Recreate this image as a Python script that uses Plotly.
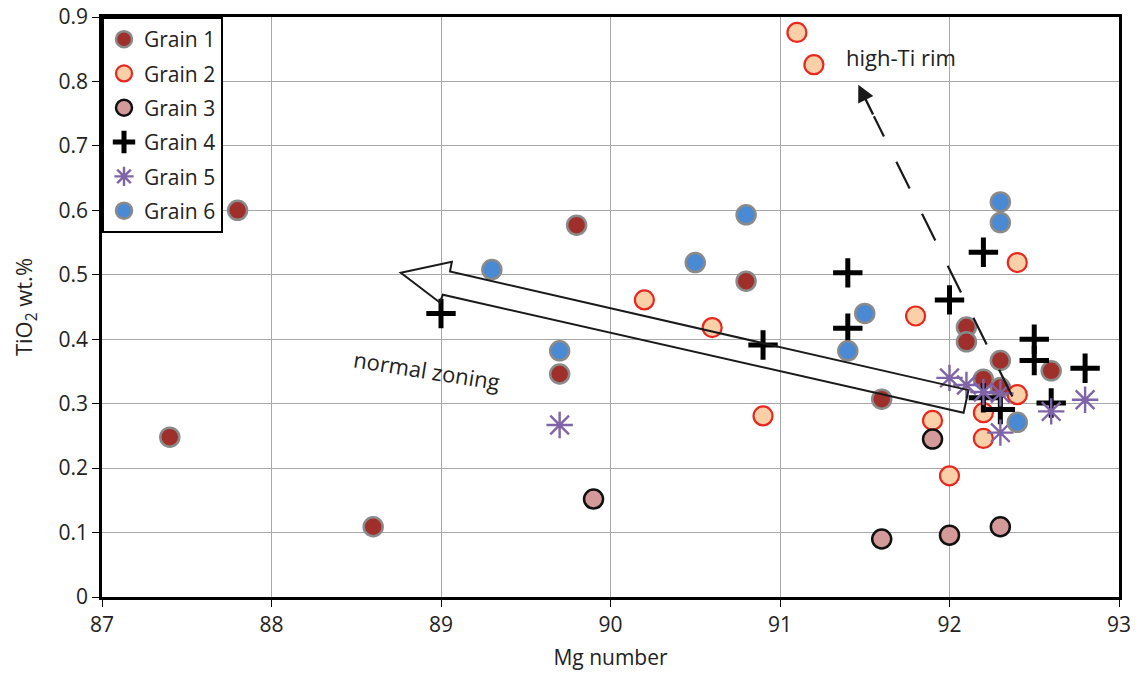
import plotly.graph_objects as go

# ---------------- data ----------------
g1_x = [87.8, 89.8, 87.4, 88.6, 89.7, 90.8, 91.6, 92.1, 92.1, 92.3, 92.2, 92.3, 92.6]
g1_y = [0.600, 0.577, 0.248, 0.109, 0.346, 0.490, 0.307, 0.419, 0.396, 0.367, 0.338, 0.325, 0.351]

g2_x = [91.1, 91.2, 90.2, 90.6, 91.8, 92.4, 90.9, 91.9, 92.0, 92.2, 92.2, 92.4]
g2_y = [0.876, 0.826, 0.461, 0.418, 0.436, 0.519, 0.281, 0.274, 0.188, 0.286, 0.246, 0.314]

g3_x = [89.9, 91.6, 92.0, 91.9, 92.3]
g3_y = [0.152, 0.090, 0.096, 0.245, 0.109]

g4_x = [89.0, 90.9, 91.4, 91.4, 92.0, 92.2, 92.5, 92.5, 92.8, 92.6, 92.2, 92.3]
g4_y = [0.440, 0.391, 0.503, 0.417, 0.461, 0.535, 0.400, 0.367, 0.355, 0.301, 0.309, 0.291]

g5_x = [89.7, 92.0, 92.1, 92.2, 92.3, 92.3, 92.6, 92.8]
g5_y = [0.267, 0.340, 0.329, 0.318, 0.316, 0.255, 0.288, 0.306]

g6_x = [89.3, 89.7, 90.5, 90.8, 91.4, 91.5, 92.3, 92.3, 92.4]
g6_y = [0.508, 0.382, 0.519, 0.593, 0.382, 0.440, 0.613, 0.581, 0.271]

x_ticks = [87, 88, 89, 90, 91, 92, 93]
y_ticks = [0, 0.1, 0.2, 0.3, 0.4, 0.5, 0.6, 0.7, 0.8, 0.9]
y_ticktext = ["0", "0.1", "0.2", "0.3", "0.4", "0.5", "0.6", "0.7", "0.8", "0.9"]

FONT = "Open Sans"
TXT = "#222222"

fig = go.Figure()

def add(name, xs, ys, marker):
    fig.add_trace(go.Scatter(x=xs, y=ys, mode="markers", name=name,
                             legendgroup=name, marker=marker))

add("Grain 1", g1_x, g1_y, dict(symbol="circle", size=19, color="#9e2f2b",
                                line=dict(color="#8a8a8a", width=2.5)))
add("Grain 2", g2_x, g2_y, dict(symbol="circle", size=19, color="#fad0a8",
                                line=dict(color="#e8281e", width=2.2)))
add("Grain 3", g3_x, g3_y, dict(symbol="circle", size=19, color="#d49a9a",
                                line=dict(color="#111111", width=2.5)))
add("Grain 4", g4_x, g4_y, dict(symbol="cross-thin", size=21, color="black",
                                line=dict(color="black", width=5)))
add("Grain 5", g5_x, g5_y, dict(symbol="asterisk", size=22, color="#8064a8",
                                line=dict(color="#8064a8", width=2.4)))
add("Grain 6", g6_x, g6_y, dict(symbol="circle", size=19, color="#4a8ad4",
                                line=dict(color="#8a8a8a", width=2.5)))

# big hollow "normal zoning" arrow
arrow_path = ("M 88.763 0.503 L 89.064 0.520 L 89.053 0.505 L 92.112 0.321 "
              "L 92.083 0.286 L 89.011 0.469 L 88.993 0.457 Z")
fig.add_shape(type="path", path=arrow_path, xref="x", yref="y",
              line=dict(color="#1a1a1a", width=2), fillcolor="rgba(0,0,0,0)",
              layer="above")

# dashed "high-Ti rim" arrow
fig.add_shape(type="line", x0=92.371, y0=0.311, x1=91.554, y1=0.746,
              xref="x", yref="y",
              line=dict(color="#1a1a1a", width=2.2, dash="30px,28px"))
fig.add_annotation(x=91.462, y=0.795, xref="x", yref="y", text="",
                   showarrow=True, ax=15.5, ay=31.4, arrowhead=2,
                   arrowsize=1.4, arrowwidth=2.4, arrowcolor="#1a1a1a")

fig.add_annotation(x=91.711, y=0.8385, xref="x", yref="y", text="high-Ti rim",
                   showarrow=False, font=dict(family=FONT, size=22, color=TXT))
fig.add_annotation(x=88.92, y=0.3525, xref="x", yref="y", text="normal zoning",
                   showarrow=False, textangle=9,
                   font=dict(family=FONT, size=22, color=TXT))

fig.update_layout(
    width=1138, height=673,
    margin=dict(l=102, r=19, t=17, b=76),
    paper_bgcolor="white", plot_bgcolor="white",
    font=dict(family=FONT, color=TXT),
    showlegend=True,
    legend=dict(x=0, y=1, xanchor="left", yanchor="top",
                bordercolor="black", borderwidth=2, bgcolor="white",
                font=dict(family=FONT, size=21, color=TXT),
                tracegroupgap=4),
    xaxis=dict(range=[87, 93], tickvals=x_ticks, showgrid=True, automargin=False,
               gridcolor="#a8a8a8", gridwidth=1, zeroline=False,
               showline=True, mirror=True, linecolor="black", linewidth=2.5,
               ticks="outside", ticklen=7, tickcolor="black",
               tickfont=dict(family=FONT, size=21, color=TXT),
               title=dict(text="Mg number", font=dict(family=FONT, size=21, color=TXT),
                          standoff=14)),
    yaxis=dict(range=[0, 0.9], tickvals=y_ticks, ticktext=y_ticktext, showgrid=True,
               automargin=False,
               gridcolor="#a8a8a8", gridwidth=1, zeroline=False,
               showline=True, mirror=True, linecolor="black", linewidth=2.5,
               ticks="outside", ticklen=7, tickcolor="black",
               tickfont=dict(family=FONT, size=21, color=TXT),
               title=dict(text="TiO<sub>2</sub> wt.%", font=dict(family=FONT, size=22, color=TXT),
                          standoff=20)),
)

fig.write_html("out.html")
